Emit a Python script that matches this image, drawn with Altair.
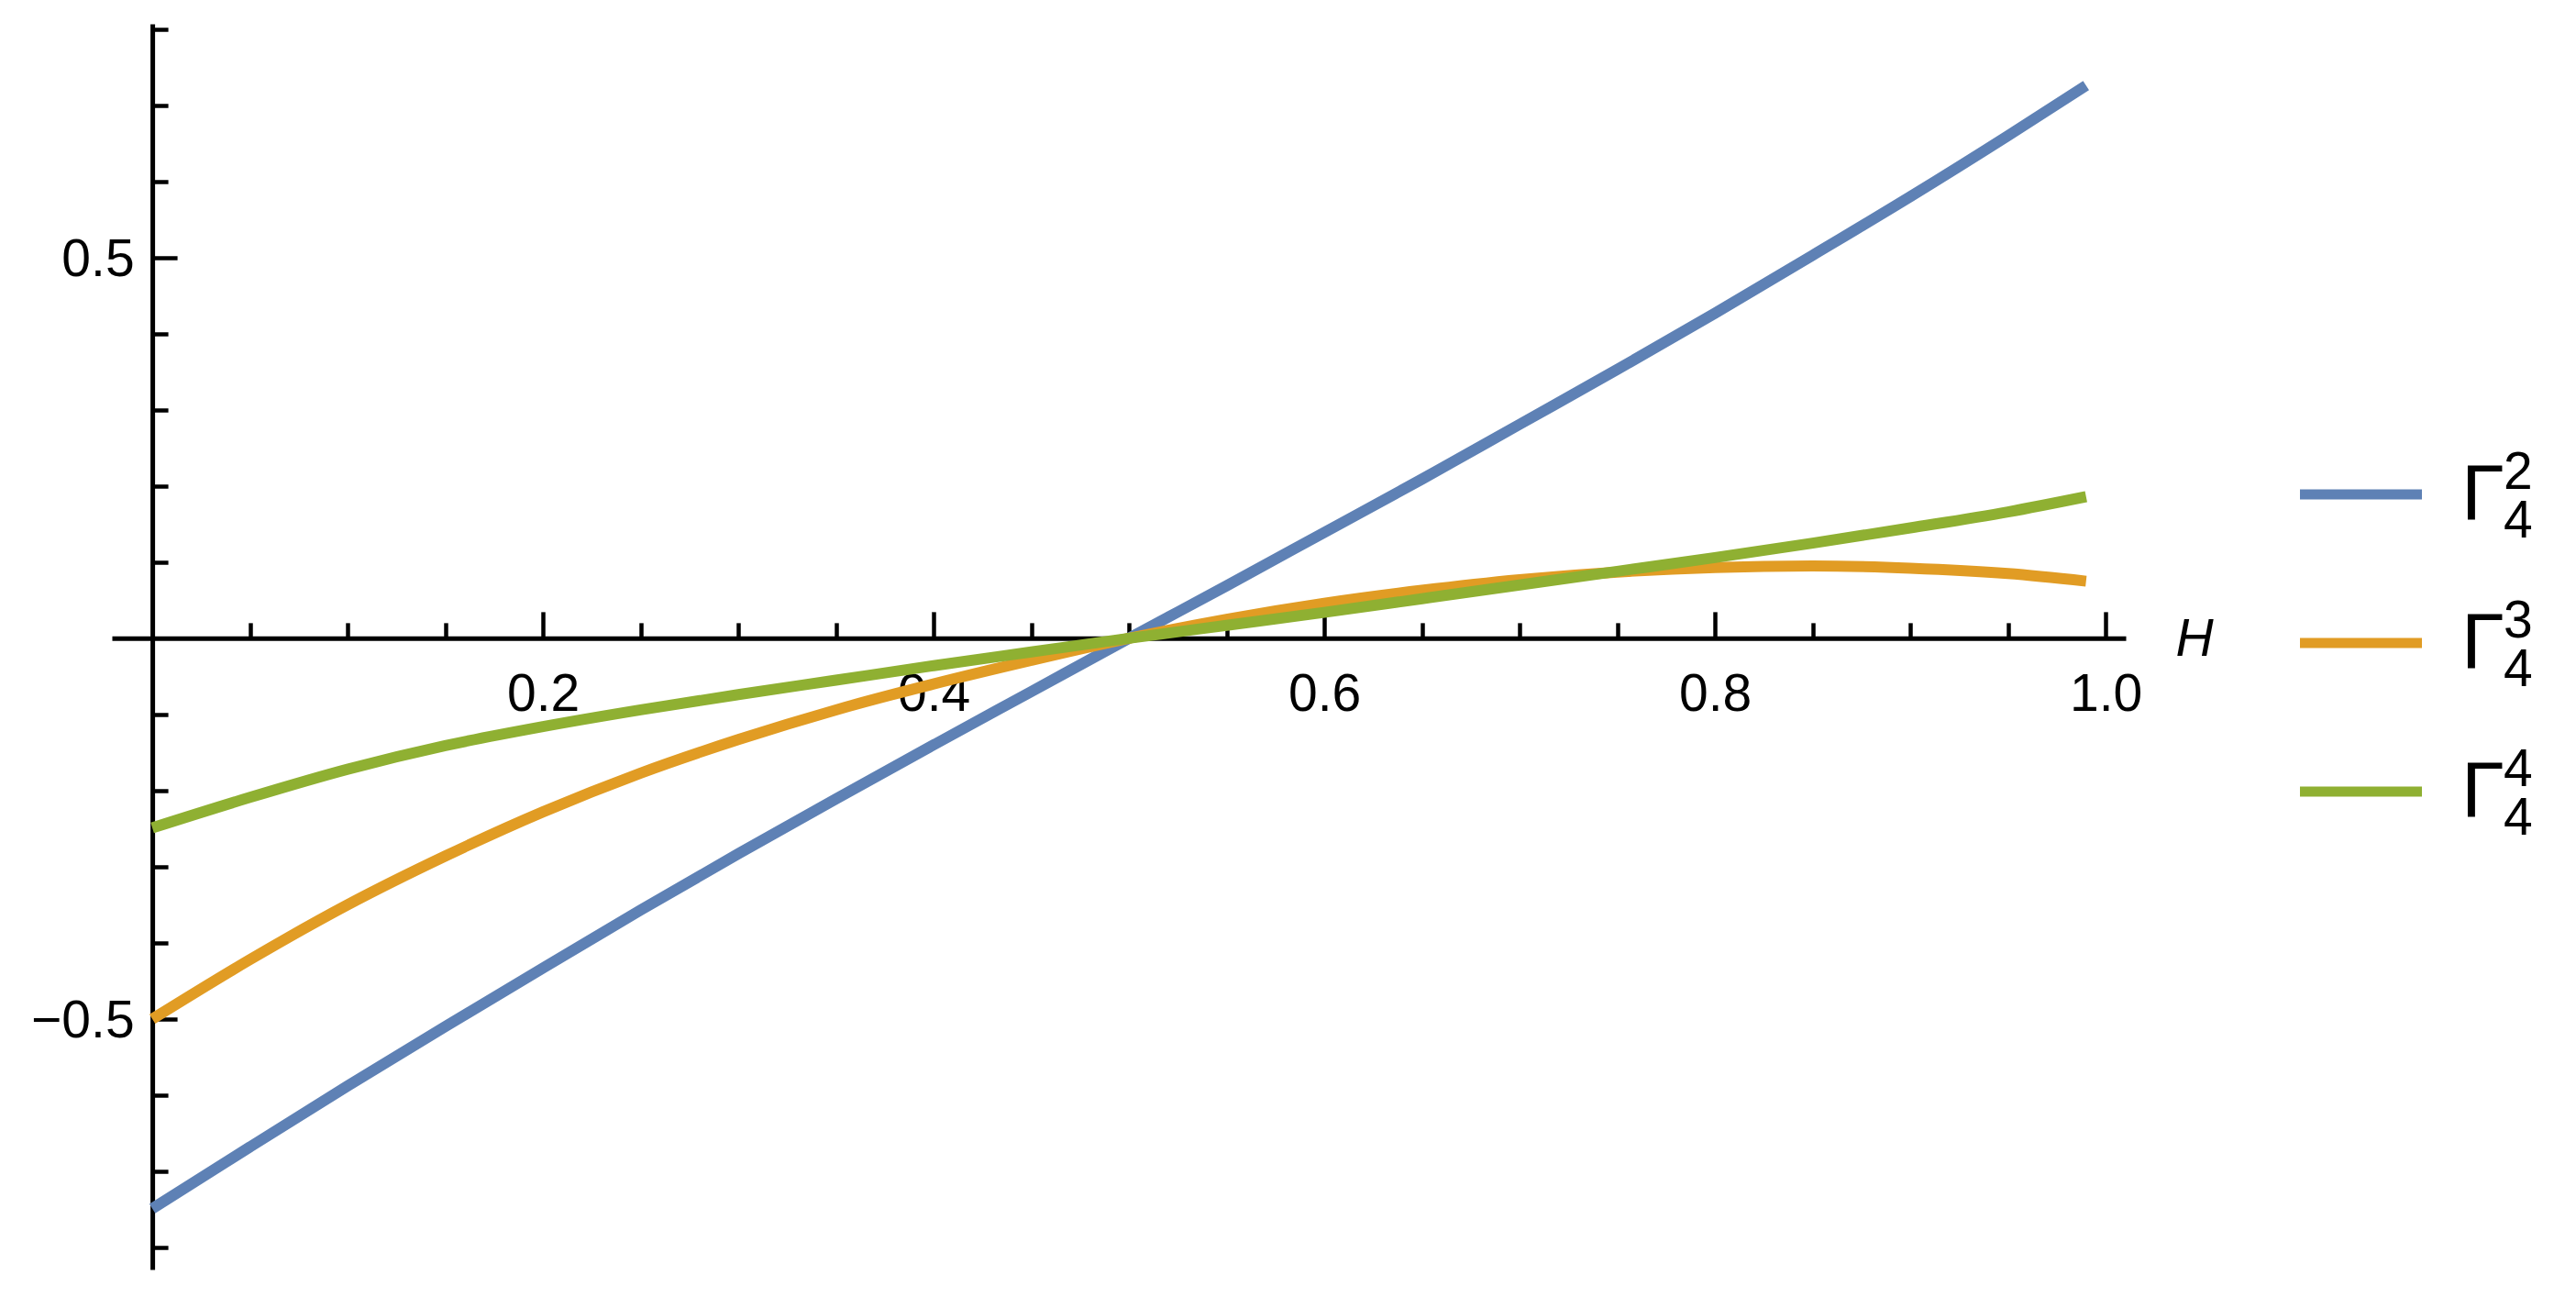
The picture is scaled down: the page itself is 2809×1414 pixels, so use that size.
import altair as alt
import pandas as pd

# ---------------- data ----------------
H_vals = [0.00, 0.05, 0.10, 0.15, 0.20, 0.25, 0.30, 0.35, 0.40, 0.45, 0.50,
          0.55, 0.60, 0.65, 0.70, 0.75, 0.80, 0.85, 0.90, 0.95, 0.99]
gamma_4_2 = [-0.749, -0.668, -0.588, -0.510, -0.433, -0.357, -0.283, -0.211, -0.140, -0.070, 0.000,
             0.069, 0.139, 0.209, 0.281, 0.353, 0.427, 0.503, 0.580, 0.660, 0.726]
gamma_4_3 = [-0.500, -0.422, -0.350, -0.286, -0.228, -0.177, -0.133, -0.094, -0.060, -0.029, 0.000,
             0.025, 0.046, 0.063, 0.077, 0.087, 0.093, 0.095, 0.092, 0.085, 0.075]
gamma_4_4 = [-0.249, -0.209, -0.172, -0.141, -0.116, -0.094, -0.074, -0.055, -0.036, -0.018, 0.000,
             0.017, 0.034, 0.052, 0.070, 0.088, 0.106, 0.125, 0.145, 0.166, 0.186]

series_keys = ["G42", "G43", "G44"]
series_sup = ["2", "3", "4"]
series_sub = ["4", "4", "4"]
series_colors = ["#5E81B5", "#E19C24", "#8FB032"]

x_major_ticks = [0.2, 0.4, 0.6, 0.8, 1.0]
x_minor_ticks = [0.05, 0.1, 0.15, 0.25, 0.3, 0.35, 0.45, 0.5, 0.55, 0.65, 0.7, 0.75, 0.85, 0.9, 0.95]
y_major_ticks = [-0.5, 0.5]
y_minor_ticks = [-0.8, -0.7, -0.6, -0.4, -0.3, -0.2, -0.1, 0.1, 0.2, 0.3, 0.4, 0.6, 0.7, 0.8]
x_label_values = [0.2, 0.4, 0.6, 0.8, 1.0]
y_label_values = [-0.5, 0.5]
x_axis_title = "H"

# ---------------- layout ----------------
X_DOMAIN = [-0.0207, 1.0103]
Y_DOMAIN = [-0.829, 0.807]
W = 2196
HT = 1358
FONT = "Liberation Sans"
FS = 57

x0px = (0 - X_DOMAIN[0]) / (X_DOMAIN[1] - X_DOMAIN[0]) * W   # pixel of H=0
y0px = (Y_DOMAIN[1] - 0) / (Y_DOMAIN[1] - Y_DOMAIN[0]) * HT  # pixel of value 0

rows = []
for key, vals in zip(series_keys, [gamma_4_2, gamma_4_3, gamma_4_4]):
    for h, v in zip(H_vals, vals):
        rows.append({"H": h, "v": v, "s": key})
df = pd.DataFrame(rows)

leg = pd.DataFrame({"s": series_keys, "sup": series_sup, "sub": series_sub})

xs = alt.Scale(domain=X_DOMAIN, nice=False, zero=False)
ys = alt.Scale(domain=Y_DOMAIN, nice=False, zero=False)
cs = alt.Scale(domain=series_keys, range=series_colors)
leg_y = alt.Scale(type="point", domain=series_keys, range=[513, 837], padding=0)

common = dict(grid=False, title=None, labelFont=FONT, labelColor="black",
              tickColor="black", domainColor="black")

ax_x_minor = alt.Axis(orient="top", offset=-y0px, values=x_minor_ticks, tickSize=17, tickWidth=4.5,
                      domain=True, domainWidth=5, labels=False, **common)
ax_x_major = alt.Axis(orient="top", offset=-y0px, values=x_major_ticks, tickSize=29, tickWidth=4.5,
                      domain=False, labels=False, **common)
ax_x_labels = alt.Axis(orient="bottom", offset=y0px - HT, values=x_label_values, format=".1f",
                       ticks=False, tickSize=0, domain=False, labelPadding=34, labelFontSize=FS,
                       labelFlush=False, labelOverlap=False, grid=False, labelFont=FONT,
                       labelColor="black", title=x_axis_title, titleX=2250, titleY=19,
                       titleFont=FONT, titleFontSize=FS, titleFontStyle="italic",
                       titleFontWeight="normal", titleAlign="left", titleBaseline="alphabetic",
                       titleAngle=0, titleColor="black")

ax_y_minor = alt.Axis(orient="right", offset=x0px - W, values=y_minor_ticks, tickSize=17, tickWidth=4.5,
                      domain=True, domainWidth=5, labels=False, **common)
ax_y_major = alt.Axis(orient="right", offset=x0px - W, values=y_major_ticks, tickSize=27, tickWidth=4.5,
                      domain=False, labels=False, **common)
ax_y_labels = alt.Axis(orient="left", offset=-x0px, values=y_label_values, format=".1f",
                       ticks=False, tickSize=0, domain=False, labelPadding=20, labelFontSize=FS,
                       labelFlush=False, labelOverlap=False, labelOffset=3, **common)

lines = alt.Chart(df).mark_line(strokeWidth=12, interpolate="monotone", clip=False).encode(
    x=alt.X("H:Q", scale=xs, axis=ax_x_minor),
    y=alt.Y("v:Q", scale=ys, axis=ax_y_minor),
    color=alt.Color("s:N", scale=cs, legend=None),
)

major_layer = alt.Chart(df).mark_point(opacity=0).encode(
    x=alt.X("H:Q", scale=xs, axis=ax_x_major),
    y=alt.Y("v:Q", scale=ys, axis=ax_y_major),
)

label_layer = alt.Chart(df).mark_point(opacity=0).encode(
    x=alt.X("H:Q", scale=xs, axis=ax_x_labels),
    y=alt.Y("v:Q", scale=ys, axis=ax_y_labels),
)

leg_rule = alt.Chart(leg).mark_rule(strokeWidth=11).encode(
    x=alt.value(2386), x2=alt.value(2519),
    y=alt.Y("s:N", scale=leg_y, axis=None),
    color=alt.Color("s:N", scale=cs, legend=None),
)
leg_gamma = alt.Chart(leg).mark_text(text="Γ", font=FONT, fontSize=85, align="left",
                                     baseline="alphabetic", dy=27, color="black").encode(
    x=alt.value(2562), y=alt.Y("s:N", scale=leg_y, axis=None),
)
leg_sup = alt.Chart(leg).mark_text(font=FONT, fontSize=FS, align="left",
                                   baseline="alphabetic", dy=-6, color="black").encode(
    x=alt.value(2608), y=alt.Y("s:N", scale=leg_y, axis=None), text="sup:N",
)
leg_sub = alt.Chart(leg).mark_text(font=FONT, fontSize=FS, align="left",
                                   baseline="alphabetic", dy=47, color="black").encode(
    x=alt.value(2608), y=alt.Y("s:N", scale=leg_y, axis=None), text="sub:N",
)

chart = alt.layer(lines, major_layer, label_layer, leg_rule, leg_gamma, leg_sup, leg_sub).resolve_scale(
    y="independent"
).resolve_axis(
    x="independent", y="independent"
).properties(
    width=W, height=HT,
    autosize=alt.AutoSizeParams(type="none"),
    padding={"left": 114, "top": 18, "right": 480, "bottom": 12},
    background="white",
).configure_view(strokeWidth=0)

chart.save("out.html", embed_options={"renderer": "svg", "actions": False})
